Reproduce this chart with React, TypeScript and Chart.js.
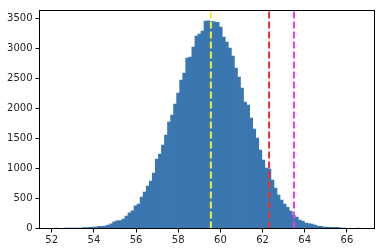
import React, { useEffect, useRef } from "react";
import { Chart, registerables } from "chart.js";

Chart.register(...registerables);

// Histogram bins: first bin left edge and bin width (data units)
const binStart = 52.152;
const binWidth = 0.1443;

// Counts per bin (100 bins)
const counts = [
  1, 0, 0, 1, 2, 3, 4, 6, 9, 14,
  17, 19, 22, 24, 36, 38, 42, 55, 77, 110,
  126, 130, 155, 205, 260, 293, 376, 404, 521, 604,
  704, 787, 920, 1153, 1236, 1386, 1553, 1769, 1885, 2068,
  2251, 2468, 2584, 2834, 2850, 3017, 3200, 3233, 3283, 3449,
  3452, 3446, 3438, 3428, 3350, 3183, 3100, 3000, 2867, 2667,
  2518, 2335, 2102, 2052, 1835, 1652, 1503, 1303, 1137, 1003,
  987, 804, 671, 554, 471, 404, 354, 288, 221, 188,
  138, 121, 90, 82, 72, 55, 40, 36, 25, 23,
  21, 20, 19, 17, 2, 1, 0, 0, 0, 1,
];

const xTicks = [52, 54, 56, 58, 60, 62, 64, 66];
const yTicks = [0, 500, 1000, 1500, 2000, 2500, 3000, 3500];
const xMin = 51.42;
const xMax = 67.31;
const yMax = 3625;

const meanLine = 59.55;
const redLine = 62.31;
const magentaLine = 63.49;

const tickFont = { family: "DejaVu Sans", size: 10 };

export default function App() {
  const ref = useRef<HTMLCanvasElement>(null);

  useEffect(() => {
    document.body.style.margin = "0";
    const canvas = ref.current;
    if (!canvas) return;

    const bars = counts.map((c, i) => ({ x: binStart + binWidth * (i + 0.5), y: c }));
    const vline = (v: number) => [
      { x: v, y: 0 },
      { x: v, y: yMax },
    ];

    const frame = {
      id: "frame",
      afterDraw(chart: any) {
        const { ctx, chartArea } = chart;
        ctx.save();
        ctx.strokeStyle = "#000";
        ctx.lineWidth = 1;
        ctx.strokeRect(
          chartArea.left,
          chartArea.top,
          chartArea.right - chartArea.left,
          chartArea.bottom - chartArea.top
        );
        ctx.restore();
      },
    };

    const lineDs = (v: number, color: string) => ({
      type: "line" as const,
      data: vline(v),
      borderColor: color,
      borderWidth: 2,
      borderDash: [7, 3],
      borderCapStyle: "butt" as const,
      pointRadius: 0,
      fill: false,
      order: 0,
    });

    const chart = new Chart(canvas, {
      type: "bar",
      data: {
        datasets: [
          {
            type: "bar",
            data: bars as any,
            backgroundColor: "#3a76af",
            borderWidth: 0,
            barPercentage: 1,
            categoryPercentage: 1,
            grouped: false,
            order: 10,
          } as any,
          lineDs(meanLine, "#f4f036"),
          lineDs(redLine, "#e8302c"),
          lineDs(magentaLine, "#f03cf0"),
        ],
      },
      options: {
        animation: false,
        responsive: false,
        maintainAspectRatio: false,
        layout: { padding: { left: 0, right: 9.5, top: 10.5, bottom: 0 } },
        plugins: { legend: { display: false }, tooltip: { enabled: false } },
        scales: {
          x: {
            type: "linear",
            min: xMin,
            max: xMax,
            offset: false,
            afterBuildTicks: (s: any) => {
              s.ticks = xTicks.map((v) => ({ value: v }));
            },
            afterFit: (s: any) => {
              s.height = 23.5;
            },
            ticks: {
              font: tickFont,
              color: "#262626",
              padding: 2,
              maxRotation: 0,
              autoSkip: false,
              callback: (v: any) => String(v),
            },
            grid: {
              offset: false,
              drawOnChartArea: false,
              drawTicks: true,
              tickLength: 4,
              color: "#000",
            },
            border: { display: false },
          },
          y: {
            type: "linear",
            min: 0,
            max: yMax,
            afterBuildTicks: (s: any) => {
              s.ticks = yTicks.map((v) => ({ value: v }));
            },
            afterFit: (s: any) => {
              s.width = 39.5;
            },
            ticks: {
              font: tickFont,
              color: "#262626",
              padding: 3,
              autoSkip: false,
              callback: (v: any) => String(v),
            },
            grid: {
              drawOnChartArea: false,
              drawTicks: true,
              tickLength: 4,
              color: "#000",
            },
            border: { display: false },
          },
        },
      },
      plugins: [frame],
    });

    return () => chart.destroy();
  }, []);

  return (
    <div style={{ width: 384, height: 252 }}>
      <canvas ref={ref} width={384} height={252} style={{ display: "block" }} />
    </div>
  );
}
